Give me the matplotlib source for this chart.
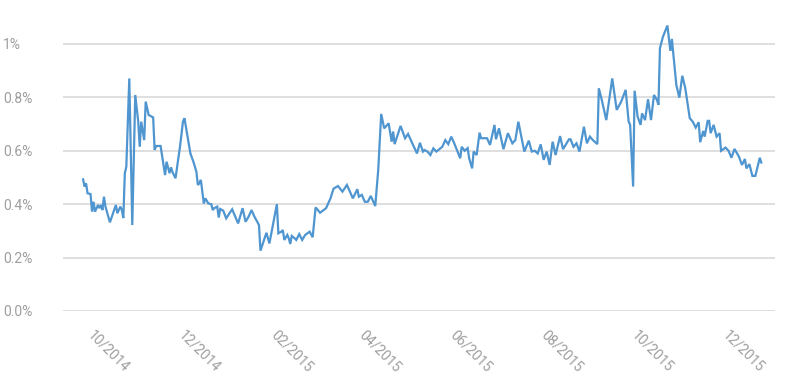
import pandas as pd
import matplotlib
matplotlib.use('Agg')
import matplotlib.pyplot as plt
import matplotlib.dates as mdates
from matplotlib.ticker import FuncFormatter

# --- data (daily rate, %) ---
dates = [
    '2014-09-23', '2014-09-24', '2014-09-25', '2014-09-26', '2014-09-28', '2014-09-29', '2014-09-30',
    '2014-10-01', '2014-10-03', '2014-10-04', '2014-10-05', '2014-10-06', '2014-10-07', '2014-10-08',
    '2014-10-11', '2014-10-15', '2014-10-16', '2014-10-18', '2014-10-19', '2014-10-20', '2014-10-21',
    '2014-10-22', '2014-10-24', '2014-10-26', '2014-10-28', '2014-10-30', '2014-10-31', '2014-11-01',
    '2014-11-03', '2014-11-04', '2014-11-06', '2014-11-09', '2014-11-10', '2014-11-11', '2014-11-14',
    '2014-11-17', '2014-11-18', '2014-11-20', '2014-11-21', '2014-11-22', '2014-11-24', '2014-11-27',
    '2014-11-29', '2014-11-30', '2014-12-04', '2014-12-06', '2014-12-08', '2014-12-09', '2014-12-10',
    '2014-12-11', '2014-12-13', '2014-12-14', '2014-12-16', '2014-12-18', '2014-12-19', '2014-12-20',
    '2014-12-22', '2014-12-23', '2014-12-24', '2014-12-26', '2014-12-28', '2015-01-01', '2015-01-04',
    '2015-01-05', '2015-01-08', '2015-01-10', '2015-01-12', '2015-01-14', '2015-01-16', '2015-01-19',
    '2015-01-20', '2015-01-24', '2015-01-26', '2015-01-31', '2015-02-01', '2015-02-03', '2015-02-04',
    '2015-02-05', '2015-02-07', '2015-02-08', '2015-02-09', '2015-02-10', '2015-02-12', '2015-02-13',
    '2015-02-15', '2015-02-17', '2015-02-19', '2015-02-22', '2015-02-24', '2015-02-26', '2015-03-01',
    '2015-03-05', '2015-03-08', '2015-03-10', '2015-03-13', '2015-03-16', '2015-03-19', '2015-03-23',
    '2015-03-26', '2015-03-27', '2015-03-29', '2015-03-31', '2015-04-02', '2015-04-04', '2015-04-07',
    '2015-04-09', '2015-04-11', '2015-04-13', '2015-04-16', '2015-04-18', '2015-04-19', '2015-04-20',
    '2015-04-24', '2015-04-27', '2015-04-29', '2015-05-05', '2015-05-07', '2015-05-09', '2015-05-10',
    '2015-05-12', '2015-05-14', '2015-05-16', '2015-05-18', '2015-05-22', '2015-05-24', '2015-05-26',
    '2015-05-28', '2015-05-30', '2015-06-03', '2015-06-04', '2015-06-06', '2015-06-08', '2015-06-09',
    '2015-06-11', '2015-06-12', '2015-06-14', '2015-06-16', '2015-06-17', '2015-06-21', '2015-06-23',
    '2015-06-26', '2015-06-27', '2015-06-29', '2015-07-02', '2015-07-05', '2015-07-08', '2015-07-10',
    '2015-07-12', '2015-07-16', '2015-07-19', '2015-07-21', '2015-07-23', '2015-07-25', '2015-07-27',
    '2015-07-29', '2015-07-31', '2015-08-02', '2015-08-04', '2015-08-06', '2015-08-09', '2015-08-11',
    '2015-08-15', '2015-08-16', '2015-08-18', '2015-08-20', '2015-08-22', '2015-08-25', '2015-08-27',
    '2015-08-29', '2015-08-31', '2015-09-03', '2015-09-04', '2015-09-06', '2015-09-09', '2015-09-13',
    '2015-09-16', '2015-09-19', '2015-09-22', '2015-09-24', '2015-09-25', '2015-09-27', '2015-09-28',
    '2015-09-30', '2015-10-02', '2015-10-03', '2015-10-05', '2015-10-07', '2015-10-09', '2015-10-11',
    '2015-10-13', '2015-10-14', '2015-10-15', '2015-10-17', '2015-10-20', '2015-10-22', '2015-10-23',
    '2015-10-26', '2015-10-28', '2015-10-30', '2015-11-01', '2015-11-04', '2015-11-06', '2015-11-08',
    '2015-11-10', '2015-11-11', '2015-11-13', '2015-11-14', '2015-11-16', '2015-11-17', '2015-11-18',
    '2015-11-20', '2015-11-22', '2015-11-24', '2015-11-25', '2015-11-28', '2015-11-30', '2015-12-02',
    '2015-12-04', '2015-12-07', '2015-12-09', '2015-12-11', '2015-12-12', '2015-12-14', '2015-12-16',
    '2015-12-18', '2015-12-21', '2015-12-22',
]
rate = [
    0.493, 0.466, 0.478, 0.441, 0.438, 0.372, 0.409,
    0.372, 0.397, 0.385, 0.397, 0.378, 0.428, 0.391,
    0.332, 0.397, 0.366, 0.391, 0.378, 0.348, 0.516,
    0.540, 0.871, 0.322, 0.809, 0.709, 0.615, 0.709,
    0.640, 0.784, 0.734, 0.725, 0.603, 0.618, 0.618,
    0.509, 0.559, 0.516, 0.538, 0.520, 0.497, 0.615,
    0.709, 0.722, 0.590, 0.559, 0.522, 0.472, 0.478,
    0.491, 0.403, 0.422, 0.403, 0.400, 0.378, 0.385,
    0.391, 0.350, 0.382, 0.376, 0.347, 0.381, 0.341,
    0.328, 0.385, 0.334, 0.353, 0.378, 0.353, 0.322,
    0.226, 0.293, 0.253, 0.400, 0.291, 0.297, 0.303,
    0.266, 0.285, 0.272, 0.251, 0.281, 0.272, 0.266,
    0.288, 0.266, 0.285, 0.297, 0.276, 0.388, 0.368,
    0.385, 0.422, 0.458, 0.468, 0.447, 0.472, 0.422,
    0.456, 0.428, 0.435, 0.409, 0.409, 0.431, 0.393,
    0.528, 0.738, 0.684, 0.703, 0.634, 0.672, 0.625,
    0.693, 0.647, 0.663, 0.590, 0.630, 0.597, 0.603,
    0.597, 0.584, 0.609, 0.597, 0.615, 0.640, 0.625,
    0.653, 0.628, 0.572, 0.615, 0.600, 0.610, 0.572,
    0.534, 0.597, 0.584, 0.668, 0.647, 0.647, 0.622,
    0.697, 0.643, 0.684, 0.606, 0.666, 0.628, 0.640,
    0.709, 0.597, 0.638, 0.597, 0.600, 0.590, 0.624,
    0.566, 0.597, 0.547, 0.634, 0.584, 0.655, 0.606,
    0.643, 0.643, 0.615, 0.628, 0.597, 0.690, 0.628,
    0.653, 0.640, 0.625, 0.834, 0.790, 0.715, 0.871,
    0.753, 0.784, 0.828, 0.709, 0.697, 0.466, 0.825,
    0.728, 0.697, 0.740, 0.715, 0.793, 0.715, 0.809,
    0.790, 0.772, 0.984, 1.027, 1.069, 0.974, 1.019,
    0.846, 0.799, 0.881, 0.834, 0.722, 0.709, 0.687,
    0.707, 0.632, 0.674, 0.653, 0.712, 0.712, 0.666,
    0.697, 0.653, 0.666, 0.600, 0.612, 0.600, 0.574,
    0.607, 0.578, 0.547, 0.569, 0.534, 0.550, 0.506,
    0.506, 0.574, 0.556,
]

yticks = [0.0, 0.2, 0.4, 0.6, 0.8, 1.0]

df = pd.DataFrame({'Date': pd.to_datetime(dates), 'Rate': rate}).set_index('Date')

plt.rcParams['font.family'] = ['Roboto', 'DejaVu Sans']

fig = plt.figure(figsize=(7.89, 3.80), dpi=100)
ax = fig.add_axes([0.0798, 0.1816, 0.9025, 0.7589])

ax.plot(df.index, df['Rate'], color='#4f95cf', linewidth=1.6, solid_joinstyle='miter')

ax.set_ylim(0, 1.08)
ax.set_xlim(pd.Timestamp('2014-09-09 12:00'), pd.Timestamp('2015-12-31 05:00'))
ax.set_yticks(yticks)
ax.yaxis.set_major_formatter(FuncFormatter(lambda v, p: '1%' if v >= 0.999 else f'{v:.1f}%'))
ax.xaxis.set_major_locator(mdates.MonthLocator(bymonth=[2, 4, 6, 8, 10, 12]))
ax.xaxis.set_major_formatter(mdates.DateFormatter('%m/%Y'))

ax.grid(True, axis='y', color='#d9d9d9', linewidth=1.2)
ax.set_axisbelow(True)
for s in ax.spines.values():
    s.set_visible(False)

ax.tick_params(axis='both', length=0, colors='#9e9e9e', labelsize=10)
ax.tick_params(axis='y', pad=43)
ax.tick_params(axis='x', pad=12)
for lbl in ax.get_yticklabels():
    lbl.set_horizontalalignment('left')
for lbl in ax.get_xticklabels():
    lbl.set_rotation(-45)
    lbl.set_horizontalalignment('left')
    lbl.set_verticalalignment('top')
    lbl.set_rotation_mode('anchor')

fig.savefig('out.png', dpi=100)
